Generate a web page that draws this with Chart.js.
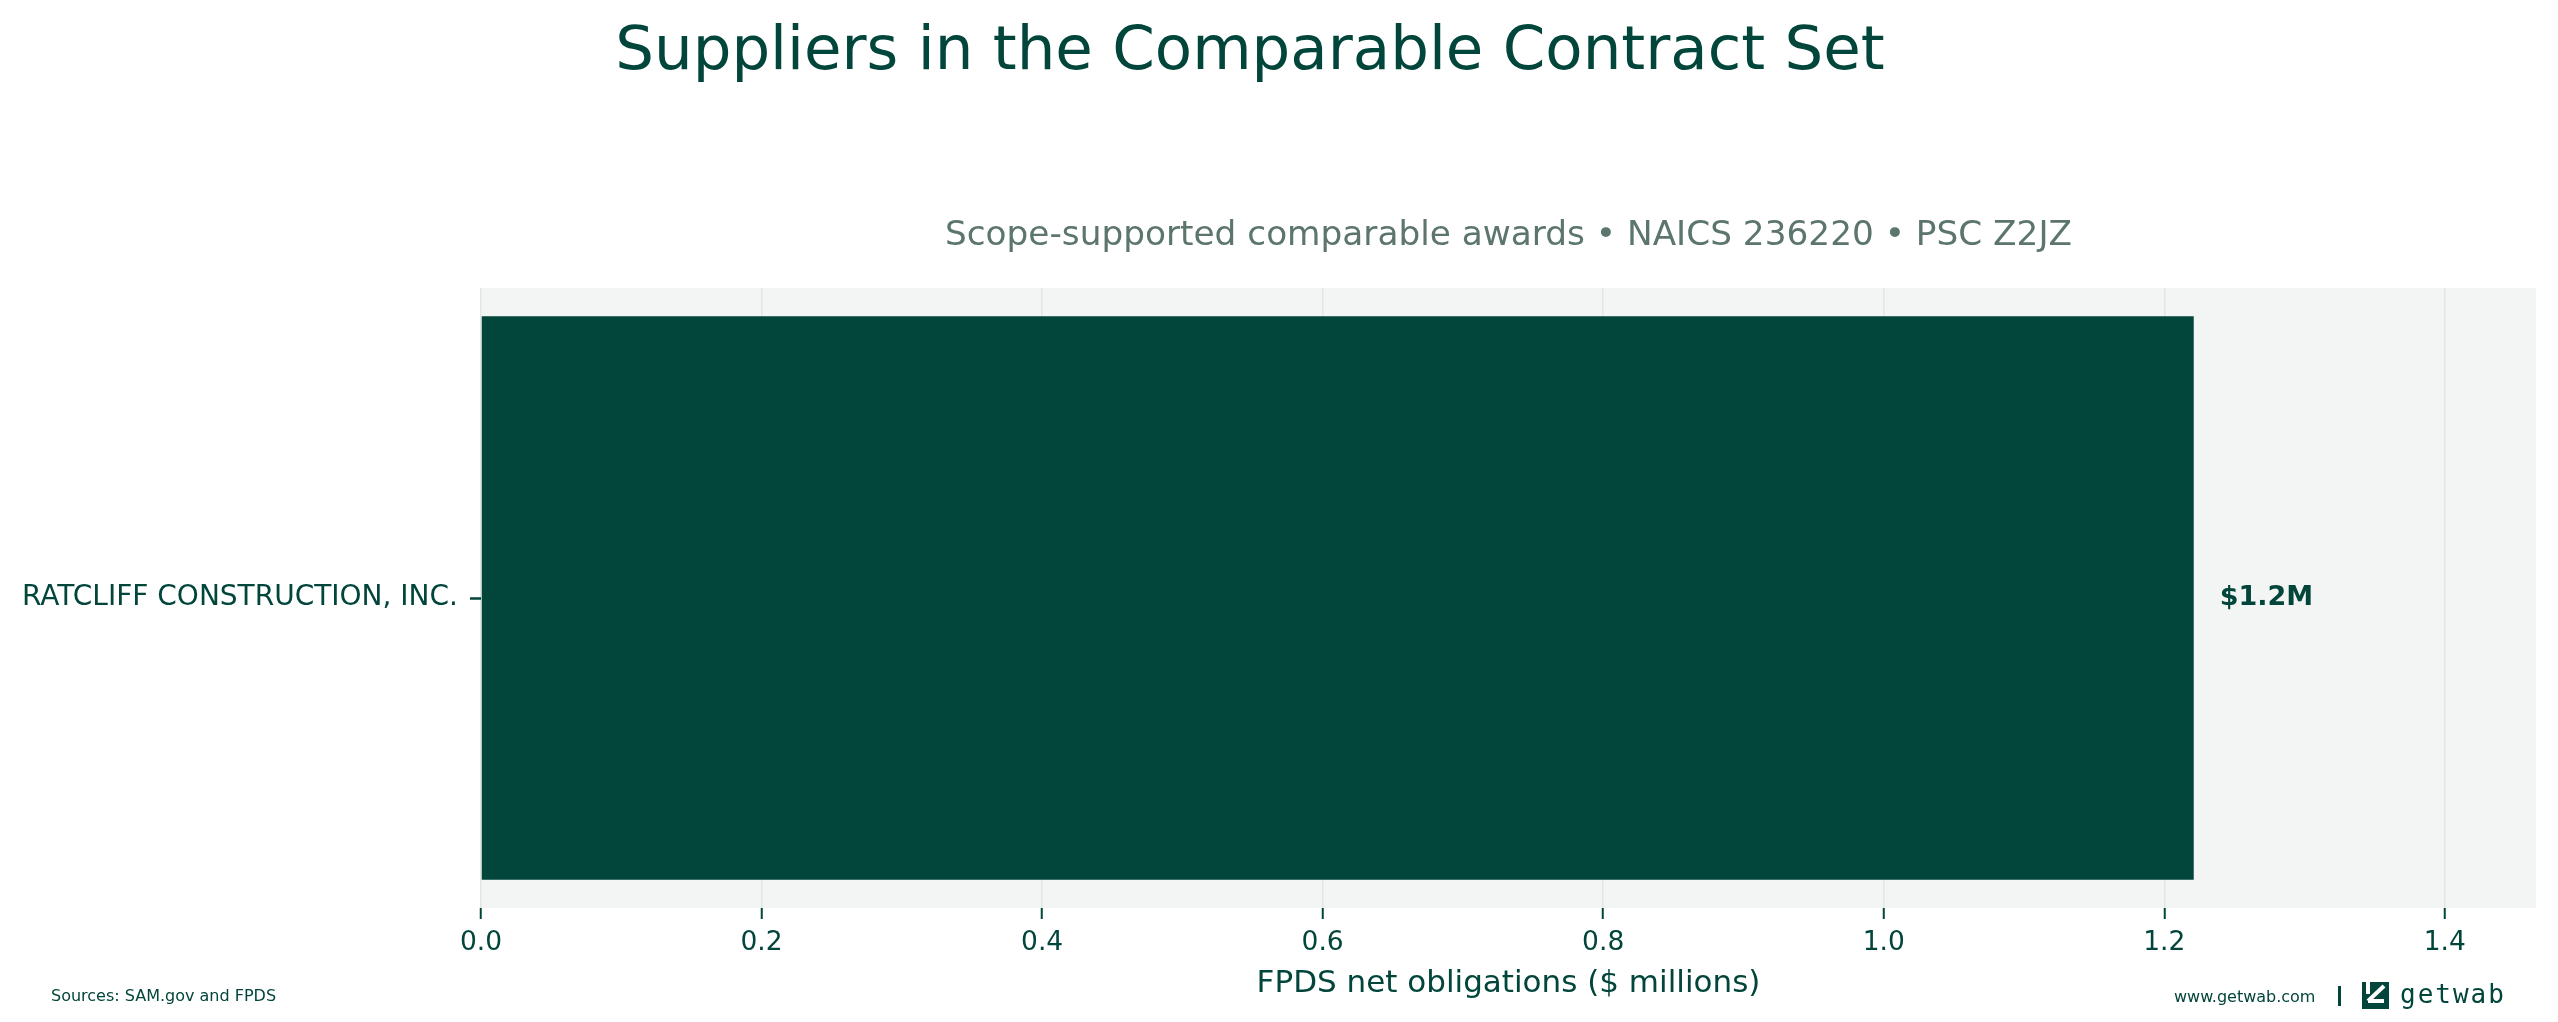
<!DOCTYPE html>
<html>
<head>
<meta charset="utf-8">
<title>Suppliers in the Comparable Contract Set</title>
<script src="https://cdn.jsdelivr.net/npm/chart.js@4.4.1/dist/chart.umd.min.js"></script>
<style>
  html, body { margin: 0; padding: 0; background: #ffffff; }
  #wrap { width: 2558px; height: 1022px; }
</style>
</head>
<body>
<div id="wrap"><canvas id="chart" width="2558" height="1022"></canvas></div>
<script>
// data
const suppliers = ["RATCLIFF CONSTRUCTION, INC."];
const obligations = [1.221]; // $ millions
const valueLabels = ["$1.2M"];
const xMax = 1.465;
const xStep = 0.2;

const dark = "#02453a";
const font = "'DejaVu Sans', 'Noto Sans', sans-serif";

// plot background behind the bars
const plotBg = {
  id: "plotBg",
  beforeDraw(chart) {
    const { ctx, chartArea: a } = chart;
    ctx.save();
    ctx.fillStyle = "#f2f5f4";
    ctx.fillRect(a.left, a.top, a.right - a.left, a.bottom - a.top);
    ctx.restore();
  },
};

// "$1.2M" next to the bar end
const barLabels = {
  id: "barLabels",
  afterDatasetsDraw(chart) {
    const { ctx } = chart;
    const meta = chart.getDatasetMeta(0);
    ctx.save();
    ctx.fillStyle = dark;
    ctx.font = "bold 27px " + font;
    ctx.textAlign = "left";
    ctx.textBaseline = "middle";
    meta.data.forEach((bar, i) => {
      ctx.fillText(valueLabels[i], bar.x + 26, bar.y);
    });
    ctx.restore();
  },
};

// title, subtitle, footer and logo
const decorations = {
  id: "decorations",
  afterDraw(chart) {
    const { ctx, chartArea: a } = chart;
    ctx.save();

    ctx.fillStyle = dark;
    ctx.font = "61px " + font;
    ctx.textAlign = "center";
    ctx.textBaseline = "alphabetic";
    ctx.fillText("Suppliers in the Comparable Contract Set", 1250, 69);

    ctx.fillStyle = "#5c766c";
    ctx.font = "34.3px " + font;
    ctx.fillText("Scope-supported comparable awards \u2022 NAICS 236220 \u2022 PSC Z2JZ", (a.left + a.right) / 2, 245);

    ctx.fillStyle = dark;
    ctx.font = "16px " + font;
    ctx.textAlign = "left";
    ctx.fillText("Sources: SAM.gov and FPDS", 51, 1001);
    ctx.fillText("www.getwab.com", 2174, 1002);

    // separator
    ctx.fillRect(2338, 986, 3, 20);

    // logo mark
    ctx.fillRect(2362, 982, 27, 27);
    ctx.strokeStyle = "#ffffff";
    ctx.lineWidth = 4;
    ctx.beginPath();
    ctx.moveTo(2368, 1001);
    ctx.lineTo(2384, 986);
    ctx.stroke();
    ctx.fillStyle = "#ffffff";
    ctx.fillRect(2366, 982, 4, 12);
    ctx.fillRect(2368, 999, 16, 4);

    // wordmark
    ctx.fillStyle = dark;
    ctx.font = "26px 'DejaVu Sans Mono', monospace";
    ctx.letterSpacing = "2px";
    ctx.fillText("getwab", 2400, 1003);
    ctx.restore();
  },
};

new Chart(document.getElementById("chart"), {
  type: "bar",
  data: {
    labels: suppliers,
    datasets: [
      {
        data: obligations,
        backgroundColor: dark,
        borderWidth: 0,
        barPercentage: 0.909,
        categoryPercentage: 1.0,
      },
    ],
  },
  options: {
    indexAxis: "y",
    responsive: false,
    animation: false,
    devicePixelRatio: 1,
    layout: {
      padding: { top: 288, right: 22, bottom: 0, left: 0 },
    },
    scales: {
      x: {
        min: 0,
        max: xMax,
        afterBuildTicks(scale) {
          // keep only the 0.2 steps
          scale.ticks = scale.ticks.filter((t) => {
            const k = t.value / xStep;
            return Math.abs(k - Math.round(k)) < 1e-6;
          });
        },
        afterFit(scale) {
          scale.height = 114;
        },
        border: { display: false },
        grid: {
          color: "#dfe8e5",
          lineWidth: 1.5,
          tickColor: dark,
          tickLength: 11,
          tickWidth: 2,
        },
        ticks: {
          stepSize: xStep,
          includeBounds: false,
          color: dark,
          padding: 8,
          font: { family: font, size: 26.5 },
          callback: (v) => v.toFixed(1),
        },
        title: {
          display: true,
          text: "FPDS net obligations ($ millions)",
          color: dark,
          font: { family: font, size: 31 },
          padding: { top: 0, bottom: 19 },
        },
      },
      y: {
        afterFit(scale) {
          scale.width = 481;
        },
        border: { display: false },
        grid: {
          offset: false,
          drawOnChartArea: false,
          tickColor: dark,
          tickLength: 11,
          tickWidth: 2.5,
        },
        ticks: {
          color: dark,
          padding: 12,
          font: { family: font, size: 28 },
        },
      },
    },
    plugins: {
      legend: { display: false },
      tooltip: { enabled: false },
    },
  },
  plugins: [plotBg, barLabels, decorations],
});
</script>
</body>
</html>
